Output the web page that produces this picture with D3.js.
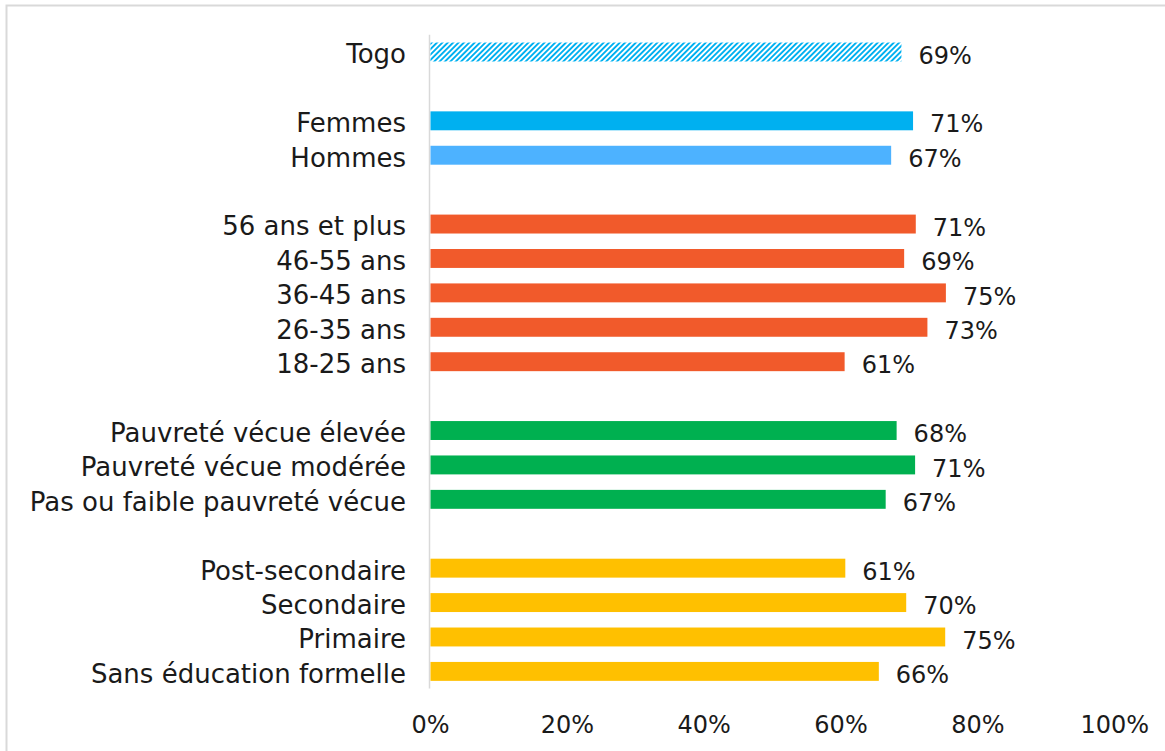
<!DOCTYPE html>
<html>
<head>
<meta charset="utf-8">
<script src="https://cdn.jsdelivr.net/npm/d3@7"></script>
<style>
  html, body { margin: 0; padding: 0; background: #fff; }
  svg { display: block; }
  text { font-family: "DejaVu Sans", sans-serif; fill: #1a1a1a; }
</style>
</head>
<body>
<svg id="chart" width="1165" height="751"></svg>
<script>
// ---- data ----
const categories = [
  "Togo",
  "Femmes", "Hommes",
  "56 ans et plus", "46-55 ans", "36-45 ans", "26-35 ans", "18-25 ans",
  "Pauvreté vécue élevée", "Pauvreté vécue modérée", "Pas ou faible pauvreté vécue",
  "Post-secondaire", "Secondaire", "Primaire", "Sans éducation formelle"
];
const groups = [
  "total",
  "sexe", "sexe",
  "age", "age", "age", "age", "age",
  "pauvrete", "pauvrete", "pauvrete",
  "education", "education", "education", "education"
];
const values = [
  68.9,
  70.6, 67.4,
  71.0, 69.3, 75.4, 72.7, 60.6,
  68.2, 70.9, 66.6,
  60.7, 69.6, 75.3, 65.6
];
const xTicks = [0, 20, 40, 60, 80, 100];

// ---- styles ----
const colorOf = {
  "Togo": "url(#hatch)",
  "Femmes": "#00B0F0",
  "Hommes": "#4DB2FF"
};
const groupColor = { age: "#F15A2B", pauvrete: "#00B050", education: "#FFC000" };

const svg = d3.select("#chart");
const W = 1165, H = 751;

// hatch pattern
const defs = svg.append("defs");
const pat = defs.append("pattern")
  .attr("id", "hatch").attr("patternUnits", "userSpaceOnUse")
  .attr("width", 3.8).attr("height", 3.8)
  .attr("patternTransform", "rotate(45)");
pat.append("rect").attr("width", 3.8).attr("height", 3.8).attr("fill", "#fff");
pat.append("rect").attr("width", 1.9).attr("height", 3.8).attr("fill", "#00B0F0");

// frame
svg.append("rect")
  .attr("x", 6.5).attr("y", 5.5).attr("width", W + 20).attr("height", H + 20)
  .attr("fill", "none").attr("stroke", "#d9d9d9").attr("stroke-width", 2);

// rows with gaps between groups
const rows = [];
categories.forEach((c, i) => {
  if (i > 0 && groups[i] !== groups[i - 1]) rows.push("__gap" + i);
  rows.push(c);
});

const x = d3.scaleLinear().domain([0, 100]).range([430, 1114.2]);
const y = d3.scaleBand().domain(rows).range([34.8, 688.6])
  .paddingInner(0.45).paddingOuter(0.225);

const data = categories.map((c, i) => ({ cat: c, group: groups[i], value: values[i] }));

// vertical axis line
svg.append("line")
  .attr("x1", x(0) - 0.5).attr("x2", x(0) - 0.5)
  .attr("y1", y.range()[0]).attr("y2", y.range()[1])
  .attr("stroke", "#d9d9d9").attr("stroke-width", 1.5);

// bars
svg.append("g").selectAll("rect").data(data).join("rect")
  .attr("x", x(0) + 0.5)
  .attr("y", d => y(d.cat))
  .attr("width", d => x(d.value) - x(0) - 0.5)
  .attr("height", y.bandwidth())
  .attr("fill", d => colorOf[d.cat] || groupColor[d.group]);

const fs = 26;
const fsNum = 24;

// category labels
svg.append("g").selectAll("text").data(data).join("text")
  .attr("x", 406)
  .attr("y", d => y(d.cat) + y.bandwidth() / 2 + 2)
  .attr("dy", "0.36em")
  .attr("text-anchor", "end")
  .attr("font-size", fs)
  .text(d => d.cat);

// value labels
svg.append("g").selectAll("text").data(data).join("text")
  .attr("x", d => x(d.value) + 17)
  .attr("y", d => y(d.cat) + y.bandwidth() / 2 + 3)
  .attr("dy", "0.36em")
  .attr("font-size", fsNum)
  .text(d => Math.round(d.value) + "%");

// x axis tick labels
const xAxis = d3.axisBottom(x).tickValues(xTicks).tickSize(0).tickPadding(0)
  .tickFormat(d => d + "%");
const gx = svg.append("g").attr("transform", "translate(0,715)").call(xAxis);
gx.select(".domain").remove();
gx.selectAll("text")
  .attr("font-size", fsNum)
  .attr("font-family", "DejaVu Sans, sans-serif")
  .attr("fill", "#1a1a1a")
  .attr("dy", "0.73em");
</script>
</body>
</html>
